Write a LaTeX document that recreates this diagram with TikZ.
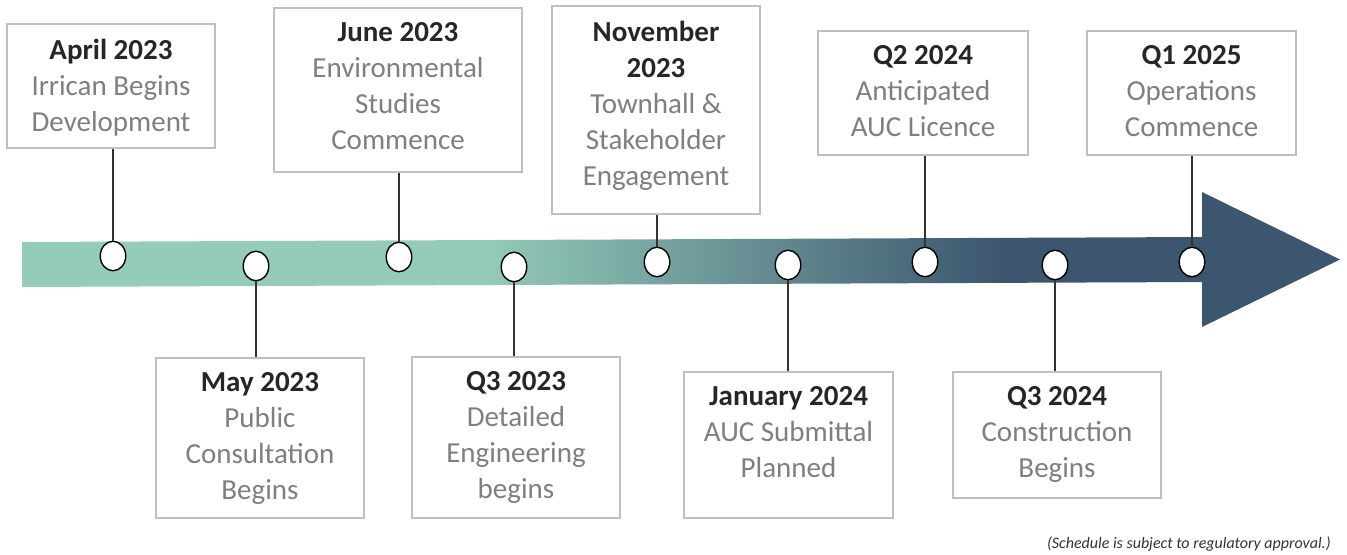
\documentclass[tikz,border=0pt]{standalone}
\usepackage{fontspec}
\setmainfont{Carlito}
\usepackage{tikz}
\usetikzlibrary{positioning,shapes.geometric}
\usepackage{xcolor}

\definecolor{barlight}{RGB}{148,203,185}
\definecolor{bardark}{RGB}{60,86,111}
\definecolor{boxline}{RGB}{191,191,191}
\definecolor{titlegray}{RGB}{38,38,38}
\definecolor{bodygray}{RGB}{127,127,127}
\definecolor{notegray}{RGB}{50,50,50}
\pgfdeclarehorizontalshading{barshading}{100bp}{color(0bp)=(barlight); color(44.5bp)=(barlight); color(66.4bp)=(bardark); color(100bp)=(bardark)}
\newcommand{\ttl}[1]{\textcolor{titlegray}{\bfseries #1}}

\begin{document}
\begin{tikzpicture}[
    datebox/.style={draw=boxline, line width=0.7pt, fill=white, inner sep=0pt},
    boxtext/.style={align=center, text=bodygray, font=\fontsize{16.5}{20.5}\selectfont, inner sep=0pt, anchor=north},
    milestone/.style={ellipse, draw=black, line width=0.8pt, fill=white, minimum width=0.51cm, minimum height=0.59cm, inner sep=0pt},
    stem/.style={draw=black!80, line width=0.8pt}]
            \useasboundingbox (0,0) rectangle (26.94,11.08);

            % time bar
            \shade[shading=barshading] (0.44,5.34) -- (24.10,5.44) -- (24.10,6.34) -- (0.44,6.24) -- cycle;
            \fill[bardark] (24.04,7.24) -- (26.80,5.89) -- (24.04,4.54) -- cycle;

            % boxes above the bar
            \node[datebox, minimum width=4.16cm, minimum height=2.48cm] (b1) at (2.22,9.36) {};
            \node[boxtext] (t1) at ([yshift=-0.30cm]b1.north) {\ttl{April 2023}\\Irrican Begins\\Development};
            \node[datebox, minimum width=4.96cm, minimum height=3.28cm] (b3) at (7.96,9.28) {};
            \node[boxtext] (t3) at ([yshift=-0.30cm]b3.north) {\ttl{June 2023}\\Environmental\\Studies\\Commence};
            \node[datebox, minimum width=4.16cm, minimum height=4.16cm] (b5) at (13.12,8.88) {};
            \node[boxtext] (t5) at ([yshift=-0.30cm]b5.north) {\ttl{November}\\\ttl{2023}\\Townhall \&\\Stakeholder\\Engagement};
            \node[datebox, minimum width=4.2cm, minimum height=2.48cm] (b7) at (18.46,9.22) {};
            \node[boxtext] (t7) at ([yshift=-0.30cm]b7.north) {\ttl{Q2 2024}\\Anticipated\\AUC Licence};
            \node[datebox, minimum width=4.18cm, minimum height=2.48cm] (b9) at (23.83,9.22) {};
            \node[boxtext] (t9) at ([yshift=-0.30cm]b9.north) {\ttl{Q1 2025}\\Operations\\Commence};

            % boxes below the bar
            \node[datebox, minimum width=4.16cm, minimum height=3.2cm] (b2) at (5.20,2.32) {};
            \node[boxtext] (t2) at ([yshift=-0.30cm]b2.north) {\ttl{May 2023}\\Public\\Consultation\\Begins};
            \node[datebox, minimum width=4.16cm, minimum height=3.22cm] (b4) at (10.32,2.33) {};
            \node[boxtext] (t4) at ([yshift=-0.30cm]b4.north) {\ttl{Q3 2023}\\Detailed\\Engineering\\begins};
            \node[datebox, minimum width=4.18cm, minimum height=2.92cm] (b6) at (15.77,2.18) {};
            \node[boxtext] (t6) at ([yshift=-0.30cm]b6.north) {\ttl{January 2024}\\AUC Submittal\\Planned};
            \node[datebox, minimum width=4.16cm, minimum height=2.52cm] (b8) at (21.14,2.38) {};
            \node[boxtext] (t8) at ([yshift=-0.30cm]b8.north) {\ttl{Q3 2024}\\Construction\\Begins};

            % milestones on the bar
            \node[milestone] (c1) at (2.26,5.96) {};
            \node[milestone] (c2) at (5.12,5.76) {};
            \node[milestone] (c3) at (7.98,5.94) {};
            \node[milestone] (c4) at (10.28,5.74) {};
            \node[milestone] (c5) at (13.14,5.84) {};
            \node[milestone] (c6) at (15.76,5.78) {};
            \node[milestone] (c7) at (18.50,5.84) {};
            \node[milestone] (c8) at (21.10,5.78) {};
            \node[milestone] (c9) at (23.84,5.84) {};

            % stems
            \draw[stem] (c1.north) -- (c1 |- b1.south);
            \draw[stem] (c3.north) -- (c3 |- b3.south);
            \draw[stem] (c5.north) -- (c5 |- b5.south);
            \draw[stem] (c7.north) -- (c7 |- b7.south);
            \draw[stem] (c9.north) -- (c9 |- b9.south);
            \draw[stem] (c2.south) -- (c2 |- b2.north);
            \draw[stem] (c4.south) -- (c4 |- b4.north);
            \draw[stem] (c6.south) -- (c6 |- b6.north);
            \draw[stem] (c8.south) -- (c8 |- b8.north);

            % note
            \node[anchor=east, inner sep=0pt, text=notegray, font=\fontsize{9.1}{11}\selectfont\itshape] (note) at (26.62,0.20) {(Schedule is subject to regulatory approval.)};
        \end{tikzpicture}
\end{document}
